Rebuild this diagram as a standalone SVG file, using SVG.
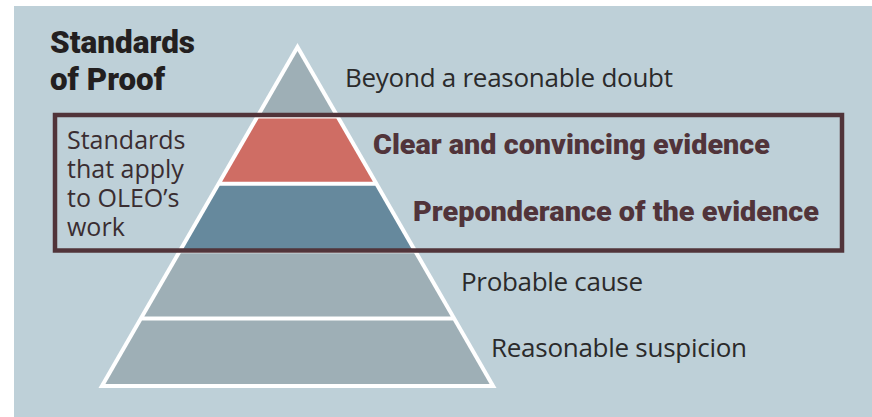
<svg xmlns="http://www.w3.org/2000/svg" width="872" height="417" viewBox="0 0 872 417">
<style>
.reg{font-family:"Open Sans","Noto Sans","Liberation Sans",sans-serif;font-size:26px;fill:#2b2a2b}
.box{font-family:"Open Sans","Noto Sans","Liberation Sans",sans-serif;font-size:25px;fill:#3a2d31}
.hv{font-family:Roboto,"Liberation Sans",sans-serif;font-weight:900;fill:#231f20}
.bld{font-family:Roboto,"Liberation Sans",sans-serif;font-weight:900;font-size:28px;fill:#51343a}
</style>
<rect x="0" y="0" width="872" height="417" fill="#ffffff"/>
<rect x="14" y="6" width="858" height="411" fill="#bed0d8"/>
<g id="title">
<text class="hv" x="50" y="53" font-size="32" textLength="145" lengthAdjust="spacingAndGlyphs">Standards</text>
<text class="hv" x="50" y="90" font-size="32" textLength="115" lengthAdjust="spacingAndGlyphs">of Proof</text>
</g>
<g id="pyramid">
<polygon points="297.5,43 98.5,388 496.5,388" fill="#ffffff"/>
<polygon id="level-beyond" points="297.5,51 334.07,114.4 260.93,114.4" fill="#9eafb6"/>
<polygon id="level-clear" points="258.62,118.4 336.38,118.4 372.95,181.8 222.05,181.8" fill="#cf6d64"/>
<polygon id="level-preponderance" points="219.74,185.8 375.26,185.8 411.83,249.2 183.17,249.2" fill="#66899d"/>
<polygon id="level-probable" points="180.87,253.2 414.13,253.2 450.7,316.6 144.3,316.6" fill="#9eafb6"/>
<polygon id="level-suspicion" points="141.99,320.6 453.01,320.6 489.58,384 105.42,384" fill="#9eafb6"/>
</g>
<g id="connectors">
<rect x="55" y="115" width="787" height="135.5" fill="none" stroke="#51343a" stroke-width="4.5"/>
</g>
<g id="box-label">
<text class="box" x="67" y="149">Standards</text>
<text class="box" x="67" y="178">that apply</text>
<text class="box" x="67" y="207">to OLEO’s</text>
<text class="box" x="67" y="236">work</text>
</g>
<g id="labels">
<text class="reg" x="345" y="87" textLength="328">Beyond a reasonable doubt</text>
<text class="bld" x="373" y="154" textLength="397" lengthAdjust="spacingAndGlyphs">Clear and convincing evidence</text>
<text class="bld" x="413" y="221" textLength="406" lengthAdjust="spacingAndGlyphs">Preponderance of the evidence</text>
<text class="reg" x="461" y="291" textLength="182">Probable cause</text>
<text class="reg" x="491" y="357" textLength="256">Reasonable suspicion</text>
</g>
</svg>
